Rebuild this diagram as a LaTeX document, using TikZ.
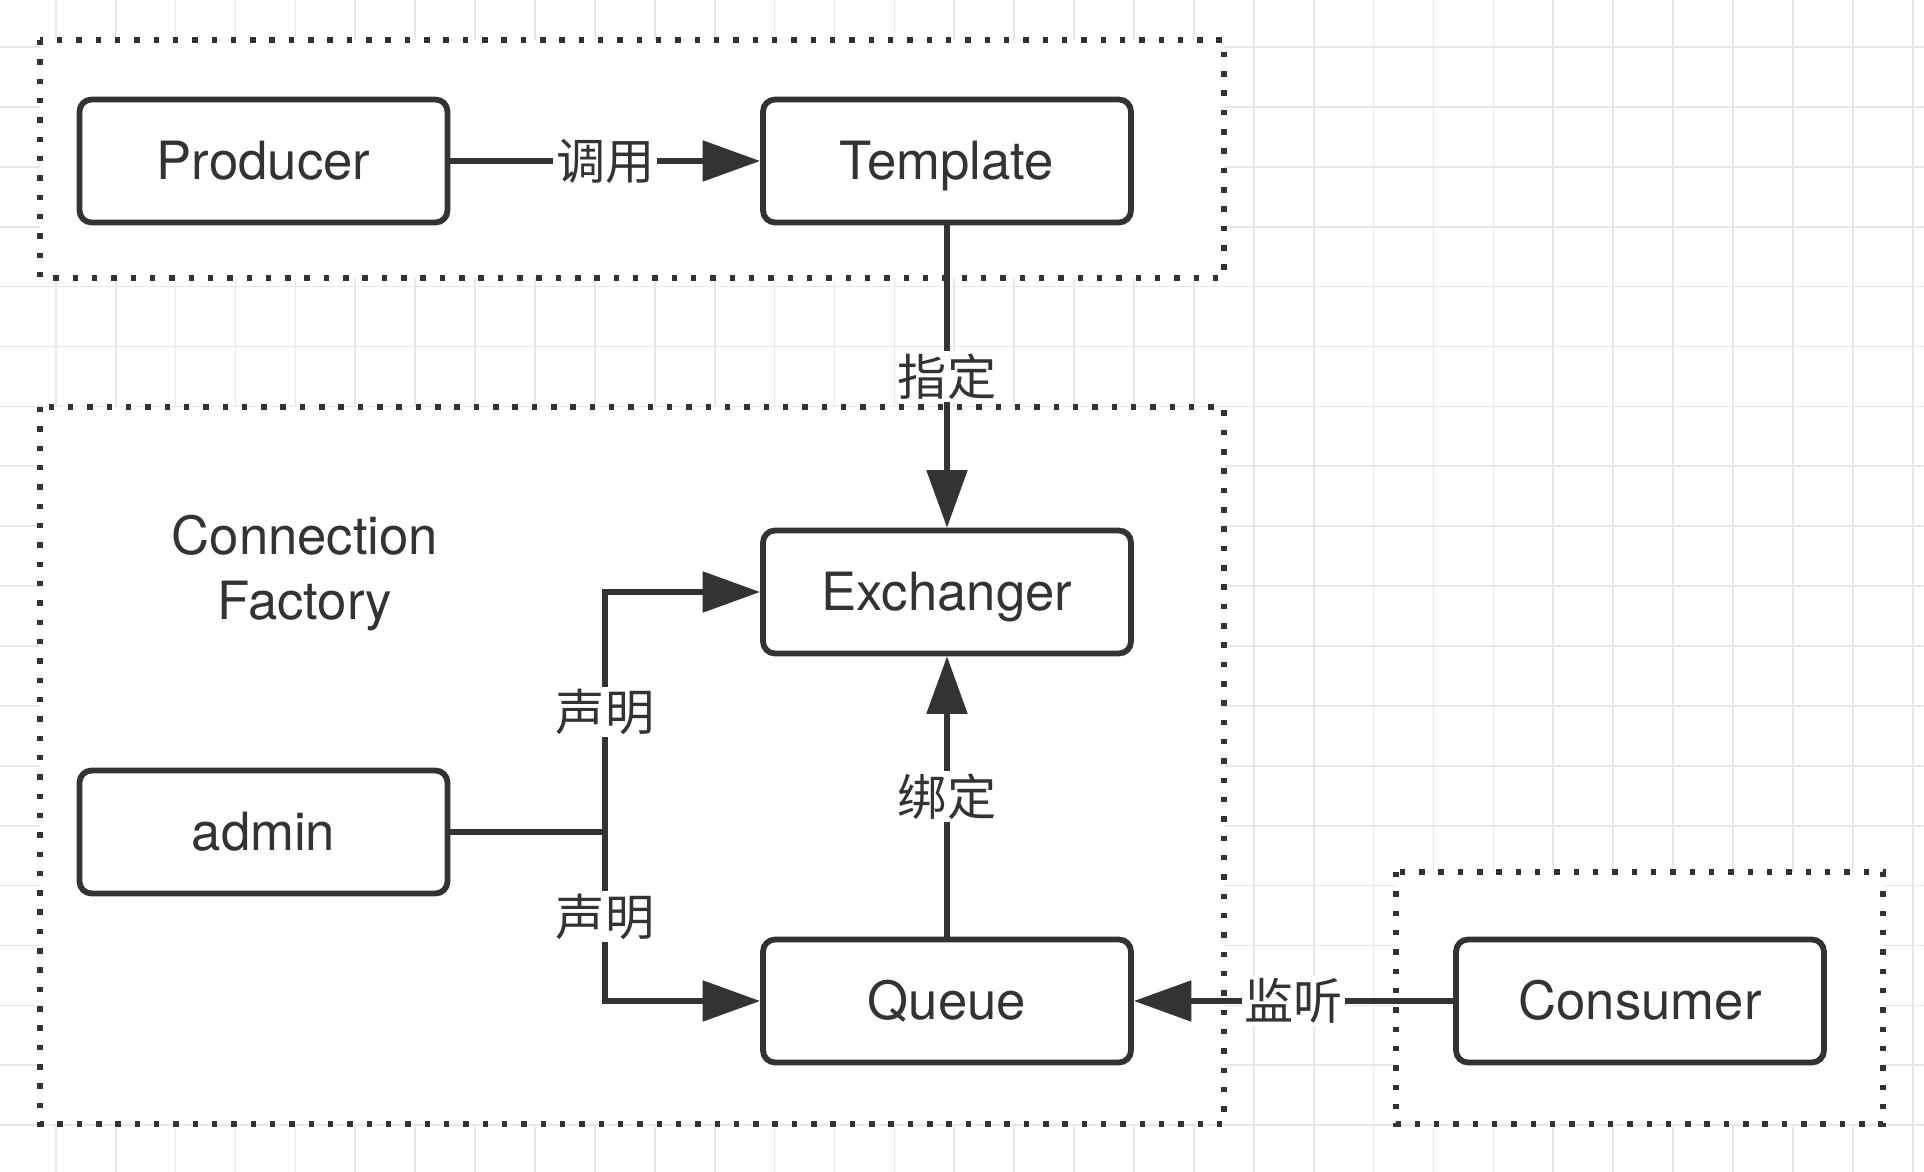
\documentclass[tikz,border=0pt]{standalone}
\usepackage{fontspec}
\setmainfont{TeX Gyre Heros}
\newfontfamily\cjkfont{Noto Sans CJK SC}
\usetikzlibrary{arrows.meta}
\definecolor{inkgray}{HTML}{333333}
\definecolor{gridgray}{HTML}{E8E8E8}
\tikzset{
  box/.style={rectangle, draw=inkgray, line width=3.3pt, rounded corners=0.24cm,
    minimum width=7.36cm, minimum height=2.46cm, fill=white, text=inkgray,
    text height=21.5pt, text depth=0pt,
    font=\fontsize{30}{37}\selectfont},
  group/.style={draw=inkgray, fill=white, line width=3.1pt, dash pattern=on 3.1pt off 7.9pt},
  edge/.style={draw=inkgray, line width=3pt, -{Triangle[length=1.15cm, width=0.8cm]}},
  tag/.style={fill=white, text=inkgray, inner sep=1.5pt, font=\cjkfont\fontsize{28}{28}\selectfont},
  gridline/.style={draw=gridgray, line width=1pt},
}
\begin{document}
\begin{tikzpicture}[x=0.02cm, y=-0.02cm]
  \useasboundingbox (0,0) rectangle (1924,1172);
  \fill[white] (0,0) rectangle (1924,1172);

  % background grid
  \foreach \k in {0,...,31} \draw[gridline] (55.8+59.9*\k,0) -- (55.8+59.9*\k,1172);
  \foreach \k in {0,...,18} \draw[gridline] (0,47+59.9*\k) -- (1924,47+59.9*\k);

  % dotted groups
  \draw[group] (40,40) rectangle (1224,278);
  \draw[group] (40,407) rectangle (1224,1124);
  \draw[group] (1396,872) rectangle (1883,1124);

  \node[box] (producer) at (263.5,161) {Producer};
  \node[box] (template) at (947,161) {Template};
  \node[box] (exchanger) at (947,592) {Exchanger};
  \node[box] (admin) at (263.5,832) {admin};
  \node[box] (queue) at (947,1001) {Queue};
  \node[box] (consumer) at (1640,1001) {Consumer};
  \node[align=center, text=inkgray, font=\fontsize{30}{37}\selectfont] (factory) at (305,573) {Connection\\Factory};

  \coordinate (split) at (605,832);

  \draw[edge] (producer) -- node[tag] {调用} (template);
  \draw[edge] (template) -- node[tag] {指定} (exchanger);
  \draw[edge] (admin.east) -- (split) |- node[tag, pos=0.25] {声明} (exchanger.west);
  \draw[edge] (admin.east) -- (split) |- node[tag, pos=0.25] {声明} (queue.west);
  \draw[edge] (queue) -- node[tag] {绑定} (exchanger);
  \draw[edge] (consumer) -- node[tag] {监听} (queue);
\end{tikzpicture}
\end{document}
